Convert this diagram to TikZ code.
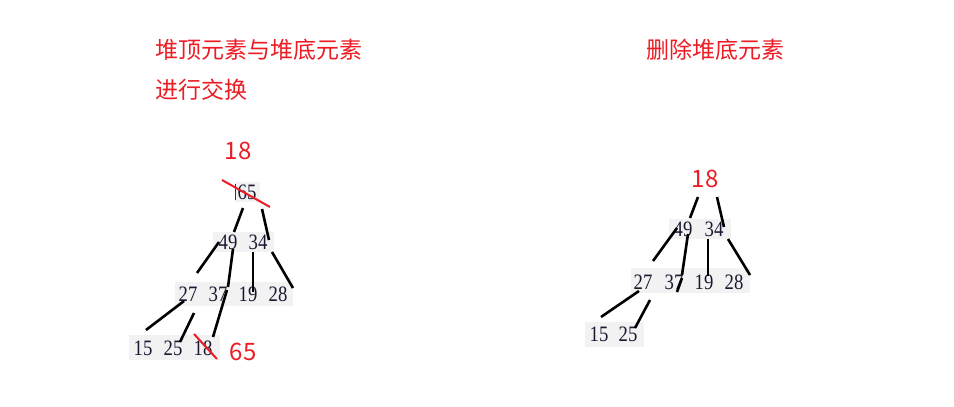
\documentclass[tikz,border=0pt]{standalone}
\usepackage{fontspec}
\setmainfont{Liberation Serif}
\newfontfamily\cjk{Noto Sans CJK SC}
\newfontfamily\numfont[FakeStretch=0.85]{Liberation Serif}
\definecolor{hred}{RGB}{236,28,36}
\definecolor{rowgray}{RGB}{242,242,242}
\definecolor{digit}{RGB}{25,25,50}
\begin{document}
\begin{tikzpicture}[x=1pt,y=-1pt,
  title/.style={anchor=west,inner sep=0pt,text=hred,font=\cjk\fontsize{23}{26}\selectfont},
  redlbl/.style={inner sep=0pt,text=hred,font=\cjk\fontsize{24}{26}\selectfont},
  row/.style={fill=rowgray,draw=none,inner sep=0pt,anchor=north west},
  num/.style={inner sep=0pt,text=digit,font=\numfont\fontsize{22}{24}\selectfont},
  edge/.style={line width=2.6pt,black},
  strike/.style={line width=2pt,hred}]
\useasboundingbox (0,0) rectangle (954,407);
\fill[white] (0,0) rectangle (954,407);

% titles
\node[title] (t1) at (155,50) {堆顶元素与堆底元素};
\node[title] (t2) at (155,90) {进行交换};
\node[title,anchor=center] (t3) at (715,50) {删除堆底元素};

% ---------- left tree ----------
\node[row,minimum width=25,minimum height=20] (L0) at (235,182) {};
\node[row,minimum width=61,minimum height=20] (L1) at (213,232) {};
\node[row,minimum width=118,minimum height=24] (L2) at (175,282) {};
\node[row,minimum width=91,minimum height=25] (L3) at (129,335) {};

\draw[line width=0.8pt,black!80] (235.5,184) -- (235.5,200);
\node[num] (n65) at (247,192) {65};
\node[num] (n49) at (228,242) {49};
\node[num] (n34) at (258,242) {34};
\node[num] (n27) at (188,294) {27};
\node[num] (n37) at (218,294) {37};
\node[num] (n19) at (248,294) {19};
\node[num] (n28) at (278,294) {28};
\node[num] (n15) at (143,348) {15};
\node[num] (n25) at (173,348) {25};
\node[num] (n18) at (203,348) {18};

\node[redlbl] (r18a) at (238,151) {18};
\node[redlbl] (r65) at (243,352) {65};

\draw[strike] (222,180) -- (270,207);
\draw[strike] (194,334) -- (217,359);

\draw[edge] (243,208) -- (234,232);
\draw[edge] (262,209) -- (269,240);
\draw[edge] (219,242) -- (197,273);
\draw[edge] (233,249) -- (228,287);
\draw[edge] (227,290) -- (213,337);
\draw[edge] (253,252) -- (253,292);
\draw[edge] (272,252) -- (293,288);
\draw[edge] (184,301) -- (146,330);
\draw[edge] (194,313) -- (180,342);

% ---------- right tree ----------
\node[row,minimum width=62,minimum height=20] (R1) at (669,219) {};
\node[row,minimum width=119,minimum height=25] (R2) at (631,268) {};
\node[row,minimum width=59,minimum height=25] (R3) at (585,322) {};

\node[redlbl] (r18b) at (705,179) {18};
\node[num] (m49) at (683,229) {49};
\node[num] (m34) at (714,229) {34};
\node[num] (m27) at (643,282) {27};
\node[num] (m37) at (674,282) {37};
\node[num] (m19) at (704,282) {19};
\node[num] (m28) at (734,282) {28};
\node[num] (m15) at (599,334) {15};
\node[num] (m25) at (628,334) {25};

\draw[edge] (698,197) -- (690,218);
\draw[edge] (717,197) -- (724,227);
\draw[edge] (677,228) -- (653,261);
\draw[edge] (688,234) -- (682,275);
\draw[edge] (682,278) -- (677,292);
\draw[edge] (708,239) -- (708,276);
\draw[edge] (728,239) -- (750,275);
\draw[edge] (639,291) -- (601,317);
\draw[edge] (650,300) -- (635,328);
\end{tikzpicture}
\end{document}
